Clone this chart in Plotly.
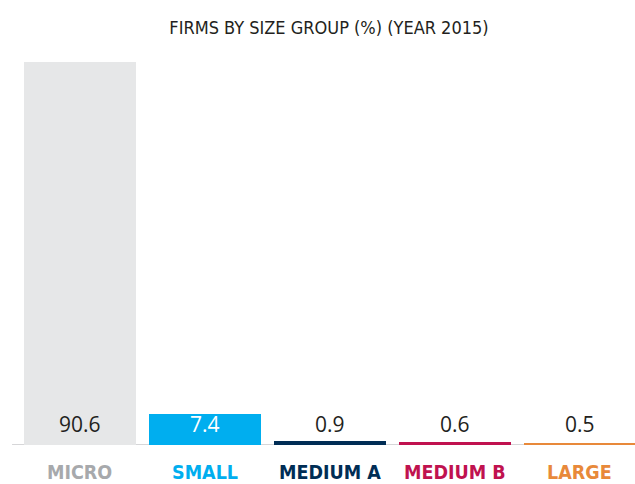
import plotly.graph_objects as go

categories = ["MICRO", "SMALL", "MEDIUM A", "MEDIUM B", "LARGE"]
values = [90.6, 7.4, 0.9, 0.6, 0.5]
value_labels = ["90.6", "7.4", "0.9", "0.6", "0.5"]
bar_colors = ["#e6e7e8", "#00aeef", "#002d55", "#c0124f", "#e8893a"]
label_colors = ["#a7a9ac", "#00aeef", "#002d55", "#c0124f", "#e8893a"]
value_text_colors = ["#231f20", "#ffffff", "#231f20", "#231f20", "#231f20"]
title_text = "FIRMS BY SIZE GROUP (%) (YEAR 2015)"

xs = list(range(len(categories)))
narrow = "DejaVu Sans Condensed"

fig = go.Figure()
fig.add_trace(go.Bar(
    x=xs, y=values, marker=dict(color=bar_colors, line=dict(width=0)),
    width=0.896, hoverinfo="skip", showlegend=False,
))

for x, lab, col in zip(xs, value_labels, value_text_colors):
    fig.add_annotation(
        x=x, y=0, xref="x", yref="y", text=lab, showarrow=False,
        yanchor="middle", yshift=21,
        font=dict(family="Open Sans", size=21, color=col),
    )

for x, lab, col in zip(xs, categories, label_colors):
    fig.add_annotation(
        x=x, y=0, xref="x", yref="y", text=f"<b>{lab}</b>", showarrow=False,
        yanchor="middle", yshift=-27,
        font=dict(family=narrow, size=19.5, color=col),
    )

fig.update_layout(
    width=635, height=484,
    margin=dict(l=17, r=0, t=62, b=39, autoexpand=False),
    paper_bgcolor="white", plot_bgcolor="white",
    title=dict(text=title_text, x=329 / 635, xanchor="center", y=1 - 28 / 484, yanchor="middle",
               font=dict(family=narrow, size=18, color="#231f20")),
    bargap=0,
    xaxis=dict(range=[-0.5, 4.444], showticklabels=False,
               showgrid=False, zeroline=False, showline=False, ticks="", fixedrange=True),
    yaxis=dict(range=[0, 90.6], showgrid=False, zeroline=False, showticklabels=False,
               showline=False, fixedrange=True),
    shapes=[dict(type="line", xref="paper", yref="y", x0=-0.008, x1=1, y0=0, y1=0,
                 layer="below", line=dict(color="#c8c9cb", width=1.5))],
)

fig.write_html(
    "out.html",
    config={"displayModeBar": False},
    post_script="document.body.style.margin='0';document.body.style.overflow='hidden';",
)
